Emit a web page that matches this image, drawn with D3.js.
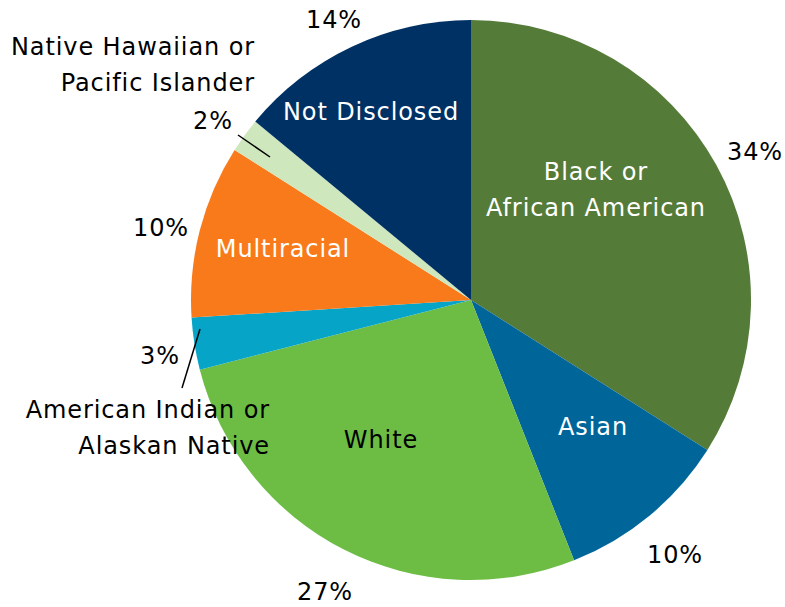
<!DOCTYPE html>
<html>
<head>
<meta charset="utf-8">
<script src="https://cdn.jsdelivr.net/npm/d3@7"></script>
<style>
  html, body { margin: 0; padding: 0; background: #fff; }
  svg text { font-family: "DejaVu Sans", "Open Sans", sans-serif; letter-spacing: 0.9px; }
</style>
</head>
<body>
<svg id="chart" width="785" height="607"></svg>
<script>
// Share of respondents by race/ethnicity (percent), clockwise from 12 o'clock
const categories = [
  "Black or African American",
  "Asian",
  "White",
  "American Indian or Alaskan Native",
  "Multiracial",
  "Native Hawaiian or Pacific Islander",
  "Not Disclosed"
];
const values = [34, 10, 27, 3, 10, 2, 14];
const colors = ["#557b38", "#006699", "#6dbd45", "#06a5c8", "#f97a1b", "#cfe7bd", "#003164"];

// Label placement (category lines inside / outside the pie, and the percent label)
const nameLines = [
  ["Black or", "African American"],
  ["Asian"],
  ["White"],
  ["American Indian or", "Alaskan Native"],
  ["Multiracial"],
  ["Native Hawaiian or", "Pacific Islander"],
  ["Not Disclosed"]
];
const nameColor = ["#fff", "#fff", "#000", "#000", "#fff", "#000", "#fff"];
const nameAnchor = ["middle", "middle", "middle", "end", "middle", "end", "middle"];
const namePos = [[596, 172], [593, 427], [381, 440], [270, 410], [283, 249], [255, 47], [371, 112]];
const pctPos = [[755, 152], [675, 555], [325, 592], [160, 356], [161, 228], [213, 121], [334, 20]];
const leaders = {3: [[200, 329], [182, 388]], 5: [[238, 135], [270, 157]]};

const cx = 471, cy = 300, radius = 280;
const lineH = 36, fontSize = 24;

const svg = d3.select("#chart");
const g = svg.append("g").attr("transform", `translate(${cx},${cy})`);

const pie = d3.pie().sort(null).value(d => d);
const arc = d3.arc().innerRadius(0).outerRadius(radius);

const arcs = pie(values);
g.selectAll("path.slice")
  .data(arcs)
  .join("path")
  .attr("class", "slice")
  .attr("d", arc)
  .attr("fill", (d, i) => colors[i]);

// Leader lines for the narrow slices
Object.entries(leaders).forEach(([i, pts]) => {
  svg.append("line")
    .attr("x1", pts[0][0]).attr("y1", pts[0][1])
    .attr("x2", pts[1][0]).attr("y2", pts[1][1])
    .attr("stroke", "#000").attr("stroke-width", 1.5);
});

// Category names
categories.forEach((c, i) => {
  const t = svg.append("text")
    .attr("x", namePos[i][0])
    .attr("y", namePos[i][1])
    .attr("text-anchor", nameAnchor[i])
    .attr("dominant-baseline", "central")
    .attr("fill", nameColor[i])
    .style("font-size", fontSize + "px");
  nameLines[i].forEach((ln, k) => {
    t.append("tspan")
      .attr("x", namePos[i][0])
      .attr("dy", k === 0 ? 0 : lineH)
      .text(ln);
  });
});

// Percent labels
values.forEach((v, i) => {
  svg.append("text")
    .attr("x", pctPos[i][0])
    .attr("y", pctPos[i][1])
    .attr("text-anchor", "middle")
    .attr("dominant-baseline", "central")
    .attr("fill", "#000")
    .style("font-size", fontSize + "px")
    .text(v + "%");
});
</script>
</body>
</html>
